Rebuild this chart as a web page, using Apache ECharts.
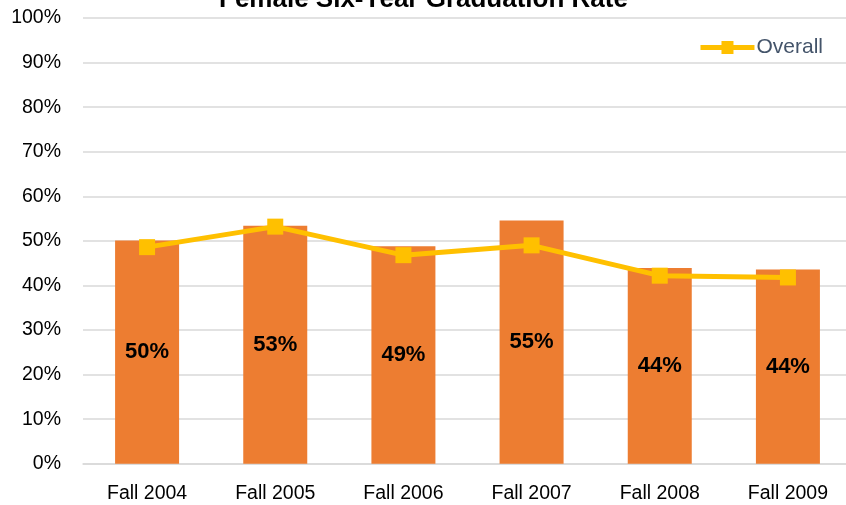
<!DOCTYPE html>
<html>
<head>
<meta charset="utf-8">
<script src="https://cdn.jsdelivr.net/npm/echarts@6/dist/echarts.min.js"></script>
<style>
  html, body { margin: 0; padding: 0; background: #fff; overflow: hidden; }
  /* plot area runs slightly past the right edge of the window */
  #chart { width: 852px; height: 505px; }
</style>
</head>
<body>
<div id="chart"></div>
<script>
// Cohorts and rates (percent)
const cohorts = ['Fall 2004', 'Fall 2005', 'Fall 2006', 'Fall 2007', 'Fall 2008', 'Fall 2009'];
const femaleRate = [50.1, 53.4, 48.8, 54.6, 43.9, 43.6];
const overallRate = [48.6, 53.2, 46.8, 49.0, 42.2, 41.8];
const yTicks = [0, 10, 20, 30, 40, 50, 60, 70, 80, 90, 100];

const font = 'Liberation Sans, Arial, sans-serif';
const chart = echarts.init(document.getElementById('chart'), null, { renderer: 'canvas' });

chart.setOption({
  animation: false,
  backgroundColor: '#ffffff',
  title: {
    text: 'Female Six-Year Graduation Rate',
    left: 214,
    top: -18,
    textStyle: { fontFamily: font, fontSize: 26, fontWeight: 'bold', color: '#000' }
  },
  legend: {
    data: [{ name: 'Overall', icon: 'path://M0,4 L21,4 L21,0 L33,0 L33,4 L54,4 L54,9 L33,9 L33,13 L21,13 L21,9 L0,9 Z' }],
    right: 24,
    top: 32,
    itemWidth: 54,
    itemHeight: 13,
    itemGap: 4,
    textStyle: { fontFamily: font, fontSize: 21, color: '#44546A', padding: [0, 0, 0, -3] }
  },
  grid: { left: 83, top: 18, right: 0, bottom: 41.2, containLabel: false },
  xAxis: {
    type: 'category',
    data: cohorts,
    axisLine: { show: true, lineStyle: { color: '#D9D9D9', width: 1.5 } },
    axisTick: { show: false },
    axisLabel: { fontFamily: font, fontSize: 19.5, color: '#000', margin: 20 }
  },
  yAxis: {
    type: 'value',
    min: yTicks[0],
    max: yTicks[yTicks.length - 1],
    interval: 10,
    axisLine: { show: false },
    axisTick: { show: false },
    splitLine: { lineStyle: { color: '#D9D9D9', width: 1.5 } },
    axisLabel: {
      fontFamily: font, fontSize: 19.5, color: '#000', margin: 22,
      formatter: v => v + '%'
    }
  },
  series: [
    {
      name: 'Female',
      type: 'bar',
      data: femaleRate,
      barWidth: 64,
      itemStyle: { color: '#ED7D31' },
      label: {
        show: true,
        position: 'inside',
        fontFamily: font,
        fontSize: 22,
        fontWeight: 'bold',
        color: '#000',
        formatter: p => Math.round(p.value) + '%'
      },
      z: 1
    },
    {
      name: 'Overall',
      type: 'line',
      data: overallRate,
      symbol: 'rect',
      symbolSize: 16,
      lineStyle: { color: '#FFC000', width: 5 },
      itemStyle: { color: '#FFC000' },
      z: 3
    }
  ]
});
</script>
</body>
</html>
